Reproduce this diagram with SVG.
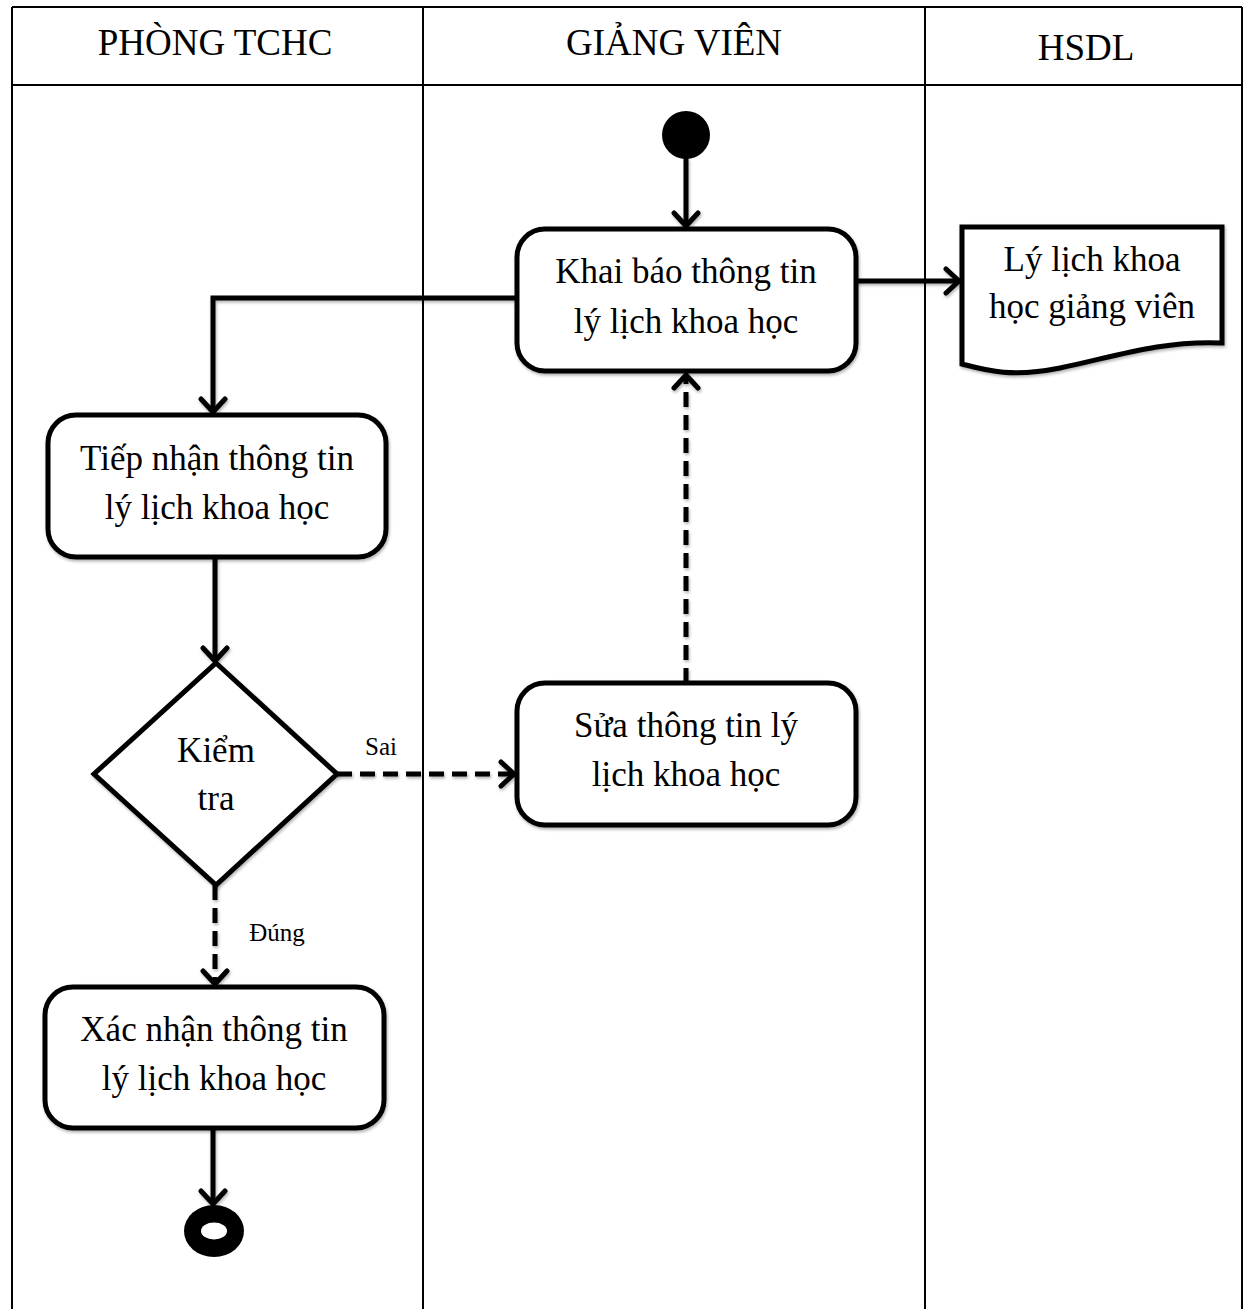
<svg xmlns="http://www.w3.org/2000/svg" width="1250" height="1309" viewBox="0 0 1250 1309">
  <defs>
    <style>
      .grid { stroke: #000; stroke-width: 2; fill: none; }
      .head { font-family: "Liberation Serif", "Times New Roman", serif; font-size: 37px; fill: #000; text-anchor: middle; }
      .lbl { font-family: "Liberation Serif", "Times New Roman", serif; font-size: 35px; fill: #000; text-anchor: middle; }
      .small { font-family: "Liberation Serif", "Times New Roman", serif; font-size: 25px; fill: #000; text-anchor: middle; }
      .box { fill: #fff; stroke: #000; stroke-width: 5; filter: url(#shadow); }
      .edge { fill: none; stroke: #000; stroke-width: 5; marker-end: url(#arrow); filter: url(#shadow); }
      .dash { stroke-dasharray: 15 8; }
    </style>
    <filter id="shadow" filterUnits="userSpaceOnUse" x="0" y="0" width="1250" height="1309">
      <feDropShadow dx="1" dy="2" stdDeviation="1.5" flood-color="#000" flood-opacity="0.3"/>
    </filter>
    <marker id="arrow" markerUnits="userSpaceOnUse" markerWidth="30" markerHeight="30" refX="16" refY="15" orient="auto">
      <path d="M3,3 L16,15 L3,27" fill="none" stroke="#000" stroke-width="5" stroke-linecap="round" stroke-linejoin="round"/>
    </marker>
  </defs>

  <!-- swimlane table -->
  <g id="lanes">
    <line class="grid" x1="12" y1="7" x2="1242" y2="7"/>
    <line class="grid" x1="12" y1="85" x2="1242" y2="85"/>
    <line class="grid" x1="12" y1="7" x2="12" y2="1309"/>
    <line class="grid" x1="423" y1="7" x2="423" y2="1309"/>
    <line class="grid" x1="925" y1="7" x2="925" y2="1309"/>
    <line class="grid" x1="1242" y1="7" x2="1242" y2="1309"/>
    <text class="head" x="215" y="55">PHÒNG TCHC</text>
    <text class="head" x="674" y="55">GIẢNG VIÊN</text>
    <text class="head" x="1086" y="60">HSDL</text>
  </g>

  <!-- connectors -->
  <g id="connectors">
    <line class="edge" x1="686" y1="158" x2="686" y2="226"/>
    <line class="edge" x1="856" y1="281" x2="959" y2="281"/>
    <polyline class="edge" points="517,298 213,298 213,412"/>
    <line class="edge" x1="215" y1="557" x2="215" y2="661"/>
    <line class="edge dash" x1="337" y1="774" x2="514" y2="774"/>
    <line class="edge dash" x1="686" y1="683" x2="686" y2="375"/>
    <line class="edge dash" x1="215" y1="885" x2="215" y2="984"/>
    <line class="edge" x1="213" y1="1128" x2="213" y2="1204"/>
    <text class="small" x="381" y="755">Sai</text>
    <text class="small" x="277" y="941">Đúng</text>
  </g>

  <g id="start">
    <circle cx="686" cy="135" r="24" fill="#000"/>
  </g>

  <g id="khai-bao">
    <rect class="box" x="517" y="229" width="339" height="142" rx="28"/>
    <text class="lbl" x="686" y="283">Khai báo thông tin</text>
    <text class="lbl" x="686" y="333">lý lịch khoa học</text>
  </g>

  <g id="ly-lich-doc">
    <path class="box" d="M962,227 H1222 V343 C1160,340 1110,358 1060,368 C1010,378 985,370 962,364 Z"/>
    <text class="lbl" x="1092" y="271">Lý lịch khoa</text>
    <text class="lbl" x="1092" y="318">học giảng viên</text>
  </g>

  <g id="tiep-nhan">
    <rect class="box" x="48" y="415" width="338" height="142" rx="28"/>
    <text class="lbl" x="217" y="470">Tiếp nhận thông tin</text>
    <text class="lbl" x="217" y="519">lý lịch khoa học</text>
  </g>

  <g id="kiem-tra">
    <polygon class="box" points="216,663 337,774 216,885 94,774"/>
    <text class="lbl" x="216" y="762">Kiểm</text>
    <text class="lbl" x="216" y="810">tra</text>
  </g>

  <g id="sua">
    <rect class="box" x="517" y="683" width="339" height="142" rx="28"/>
    <text class="lbl" x="686" y="737">Sửa thông tin lý</text>
    <text class="lbl" x="686" y="786">lịch khoa học</text>
  </g>

  <g id="xac-nhan">
    <rect class="box" x="45" y="987" width="339" height="141" rx="28"/>
    <text class="lbl" x="214" y="1041">Xác nhận thông tin</text>
    <text class="lbl" x="214" y="1090">lý lịch khoa học</text>
  </g>

  <g id="end">
    <ellipse cx="214" cy="1231" rx="30" ry="26" fill="#000"/>
    <ellipse cx="214" cy="1231" rx="13" ry="8.5" fill="#fff"/>
  </g>
</svg>
